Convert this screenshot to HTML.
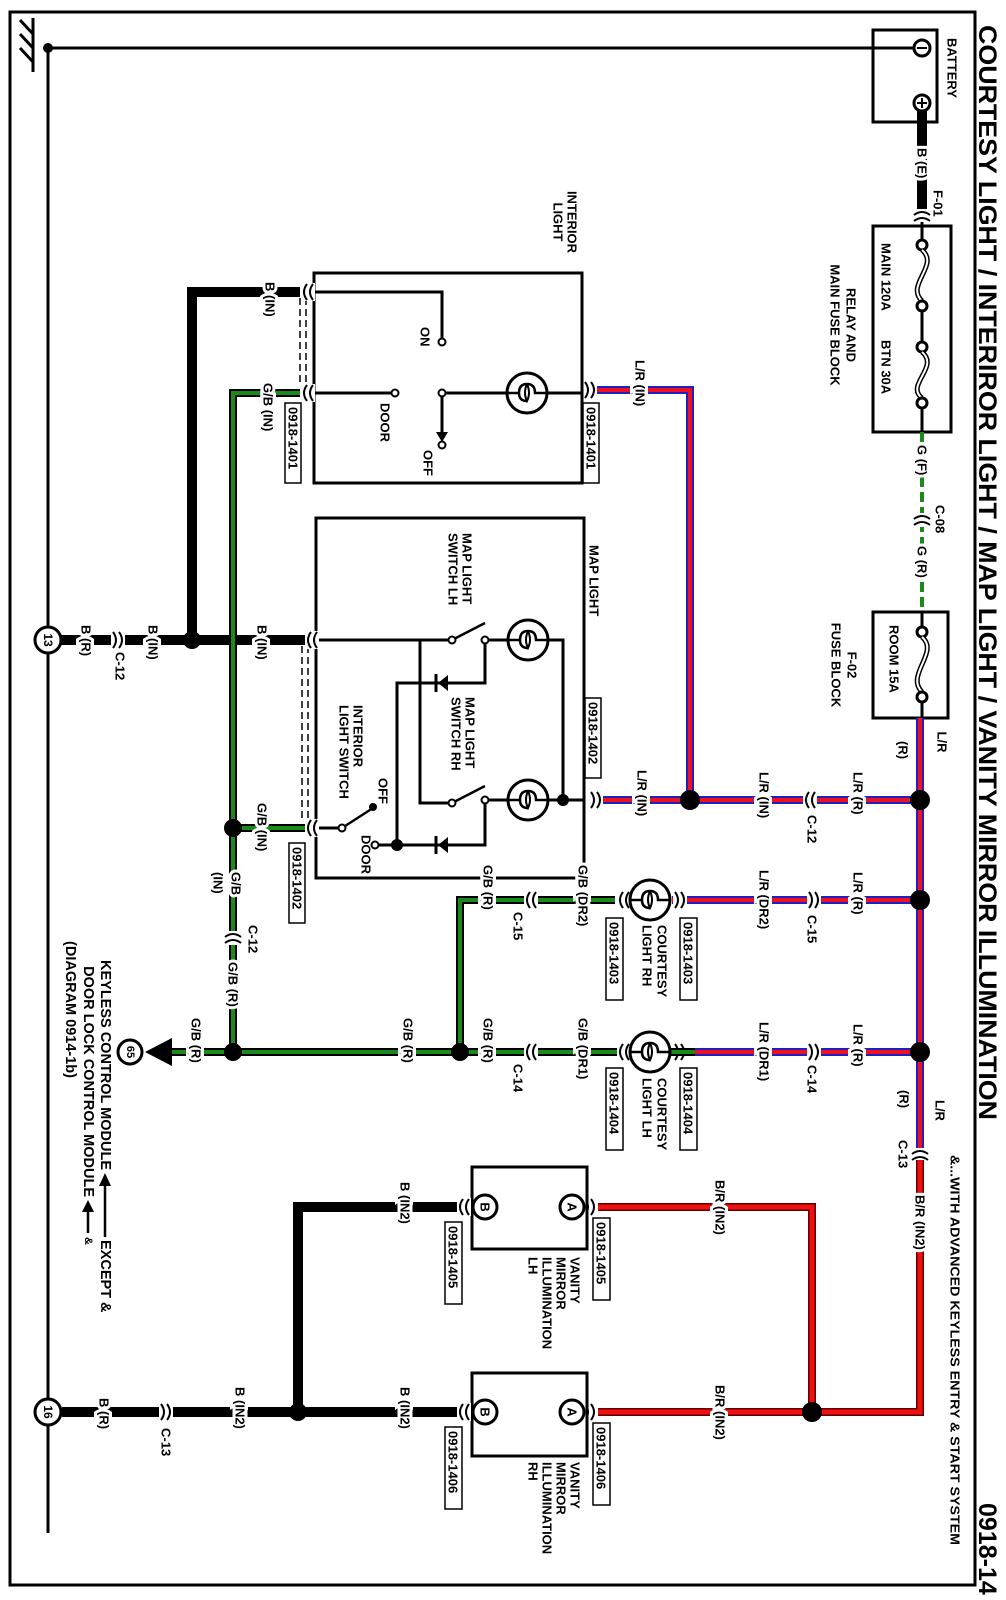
<!DOCTYPE html>
<html><head><meta charset="utf-8"><style>
html,body{margin:0;padding:0;background:#fff}
svg{display:block}
text{font-family:"Liberation Sans",Arial,sans-serif;font-weight:bold;font-size:13px;dominant-baseline:central;fill:#000}
.h{paint-order:stroke;stroke:#fff;stroke-width:6px;stroke-linejoin:miter}
.b{stroke:#000;stroke-width:10;fill:none}
.lr1{stroke:#2020c0;stroke-width:8;fill:none}
.lr2{stroke:#ee1122;stroke-width:4;fill:none}
.g1{stroke:#000;stroke-width:8;fill:none}
.g2{stroke:#1a8a1a;stroke-width:4;fill:none}
.r1{stroke:#600;stroke-width:8;fill:none}
.r2{stroke:#ee1111;stroke-width:5;fill:none}
.l{stroke:#000;stroke-width:3;fill:none}
.w{fill:#fff;stroke:#000;stroke-width:3}
.c{fill:none;stroke:#000;stroke-width:2}
.bx{fill:#fff;stroke:#000;stroke-width:1.5}
.k{font-size:14.5px}
</style></head><body>
<svg width="1006" height="1600" viewBox="0 0 1006 1600" xmlns="http://www.w3.org/2000/svg">
<defs>
<g id="chl"><rect x="-3" y="-9" width="14" height="18" fill="#fff"/><path class="c" d="M3,-8 Q-3,0 3,8 M9,-8 Q3,0 9,8"/></g>
<g id="chr"><rect x="-11" y="-9" width="14" height="18" fill="#fff"/><path class="c" d="M-3,-8 Q3,0 -3,8 M-9,-8 Q-3,0 -9,8"/></g>
<g id="chu"><rect x="-9" y="-3" width="18" height="14" fill="#fff"/><path class="c" d="M-8,3 Q0,-3 8,3 M-8,9 Q0,3 8,9"/></g>
<g id="lamp"><circle r="20" fill="#fff" stroke="#000" stroke-width="3"/><path d="M-20,0 L-8,0 Q-8,-9 0,-9 Q8,-9 8,0 L20,0 M-8,0 Q-8,8 0,8" fill="none" stroke="#000" stroke-width="2.5"/><path d="M0,-9 Q4,0 0,8 Q-4,0 0,-9" fill="none" stroke="#000" stroke-width="2"/></g>
</defs>

<rect x="10" y="12" width="965" height="1573" fill="none" stroke="#000" stroke-width="3"/>

<text transform="translate(987,25) rotate(90)" style="font-size:25px" textLength="1095" lengthAdjust="spacingAndGlyphs">COURTESY LIGHT / INTERIROR LIGHT / MAP LIGHT / VANITY MIRROR ILLUMINATION</text>
<text transform="translate(987,1503) rotate(90)" style="font-size:25px">0918-14</text>
<text transform="translate(955,1155) rotate(90)" textLength="390" lengthAdjust="spacingAndGlyphs">&amp;...WITH ADVANCED KEYLESS ENTRY &amp; START SYSTEM</text>

<line x1="48" y1="48" x2="873" y2="48" class="l"/>
<line x1="48" y1="48" x2="48" y2="1533" class="l"/>
<circle cx="48" cy="48" r="5"/>
<line x1="33" y1="18" x2="33" y2="72" class="l"/>
<path d="M33,34 L20,20 M33,48 L20,34 M33,62 L20,48" class="l"/>

<rect x="873" y="30" width="64" height="92" class="w"/>
<line x1="873" y1="48" x2="914" y2="48" class="l"/>
<circle cx="922" cy="48" r="8" class="w"/><line x1="917" y1="48" x2="927" y2="48" stroke="#000" stroke-width="2"/>
<circle cx="922" cy="103" r="8" class="w"/><path d="M917,103 H927 M922,98 V108" stroke="#000" stroke-width="2"/>
<text transform="translate(952,38) rotate(90)">BATTERY</text>
<line x1="922" y1="111" x2="922" y2="211" class="b"/>
<text class="h" transform="translate(922,148) rotate(90)">B (E)</text>

<rect x="873" y="226" width="78" height="206" class="w"/>
<use href="#chu" x="922" y="212"/>
<text transform="translate(938,190) rotate(90)">F-01</text>
<line x1="922" y1="222" x2="922" y2="240" class="l"/>
<circle cx="922" cy="245" r="5" class="w"/>
<path d="M922,250 C940,265 905,285 922,301" fill="none" stroke="#000" stroke-width="5"/><path d="M922,250 C940,265 905,285 922,301" fill="none" stroke="#fff" stroke-width="2"/>
<circle cx="922" cy="306" r="5" class="w"/>
<line x1="922" y1="311" x2="922" y2="342" class="l"/>
<circle cx="922" cy="347" r="5" class="w"/>
<path d="M922,352 C940,367 905,385 922,398" fill="none" stroke="#000" stroke-width="5"/><path d="M922,352 C940,367 905,385 922,398" fill="none" stroke="#fff" stroke-width="2"/>
<circle cx="922" cy="403" r="5" class="w"/>
<line x1="922" y1="408" x2="922" y2="432" class="l"/>
<text transform="translate(886,243) rotate(90)">MAIN 120A</text>
<text transform="translate(886,340) rotate(90)">BTN 30A</text>
<text transform="translate(851,325) rotate(90)" style="text-anchor:middle">RELAY AND</text>
<text transform="translate(835,325) rotate(90)" style="text-anchor:middle">MAIN FUSE BLOCK</text>

<line x1="922" y1="432" x2="922" y2="612" class="g2" stroke-width="7" stroke-dasharray="10,5"/>
<text class="h" transform="translate(922,445) rotate(90)">G (F)</text>
<use href="#chu" x="922" y="516"/>
<text transform="translate(940,505) rotate(90)">C-08</text>
<text class="h" transform="translate(922,546) rotate(90)">G (R)</text>

<rect x="873" y="612" width="75" height="106" class="w"/>
<line x1="922" y1="612" x2="922" y2="627" class="l"/>
<circle cx="922" cy="632" r="5" class="w"/>
<path d="M922,637 C940,652 905,675 922,692" fill="none" stroke="#000" stroke-width="5"/><path d="M922,637 C940,652 905,675 922,692" fill="none" stroke="#fff" stroke-width="2"/>
<circle cx="922" cy="697" r="5" class="w"/>
<line x1="922" y1="702" x2="922" y2="718" class="l"/>
<text transform="translate(894,625) rotate(90)">ROOM 15A</text>
<text transform="translate(852,665) rotate(90)" style="text-anchor:middle">F-02</text>
<text transform="translate(836,665) rotate(90)" style="text-anchor:middle">FUSE BLOCK</text>

<g>
<path class="lr1" d="M920,718 V1150 M920,800 H590 M920,900 H672 M920,1052 H672 M690,800 V390 H585"/>
<path class="lr2" d="M920,718 V1150 M920,800 H590 M920,900 H672 M920,1052 H672 M690,800 V390 H585"/>
</g>
<circle cx="920" cy="800" r="10"/><circle cx="920" cy="900" r="10"/><circle cx="920" cy="1052" r="10"/><circle cx="690" cy="800" r="10"/>
<text class="h" transform="translate(942,742) rotate(90)" style="text-anchor:middle">L/R</text>
<rect x="908" y="738" width="8" height="34" fill="#fff"/>
<text transform="translate(903,750) rotate(90)" style="text-anchor:middle">(R)</text>
<text transform="translate(940,1100) rotate(90)">L/R</text>
<text transform="translate(904,1090) rotate(90)">(R)</text>
<use href="#chu" x="920" y="1151"/>
<text transform="translate(903,1140) rotate(90)">C-13</text>

<text class="h" transform="translate(858,772) rotate(90)">L/R (R)</text>
<use href="#chl" x="806" y="800"/><text transform="translate(812,815) rotate(90)">C-12</text>
<text class="h" transform="translate(764,772) rotate(90)">L/R (IN)</text>
<text class="h" transform="translate(642,770) rotate(90)">L/R (IN)</text>
<use href="#chr" x="600" y="800"/>

<text class="h" transform="translate(858,872) rotate(90)">L/R (R)</text>
<use href="#chr" x="818" y="900"/><text transform="translate(812,915) rotate(90)">C-15</text>
<text class="h" transform="translate(764,870) rotate(90)">L/R (DR2)</text>
<use href="#chr" x="684" y="900"/>

<text class="h" transform="translate(858,1024) rotate(90)">L/R (R)</text>
<use href="#chr" x="818" y="1052"/><text transform="translate(812,1065) rotate(90)">C-14</text>
<text class="h" transform="translate(764,1022) rotate(90)">L/R (DR1)</text>
<use href="#chr" x="684" y="1052"/>

<text class="h" transform="translate(640,360) rotate(90)">L/R (IN)</text>
<use href="#chr" x="594" y="390"/>

<path class="r1" d="M920,1160 V1412 H598 M812,1412 V1207 H598"/>
<path class="r2" d="M920,1160 V1412 H598 M812,1412 V1207 H598"/>
<circle cx="812" cy="1412" r="10"/>
<text class="h" transform="translate(920,1195) rotate(90)">B/R (IN2)</text>
<text class="h" transform="translate(720,1180) rotate(90)">B/R (IN2)</text>
<text class="h" transform="translate(720,1385) rotate(90)">B/R (IN2)</text>
<use href="#chr" x="594" y="1207"/><use href="#chr" x="594" y="1412"/>

<rect x="314" y="273" width="268" height="210" class="w"/>
<path class="l" d="M314,292 H442 V339 M314,393 H392 M445,393 H582 M442,396 V436"/>
<path d="M436,432 L448,432 L442,442 Z"/>
<circle cx="442" cy="342" r="3.5" class="w" style="stroke-width:2"/>
<circle cx="395" cy="393" r="3.5" class="w" style="stroke-width:2"/>
<circle cx="442" cy="393" r="3.5" class="w" style="stroke-width:2"/>
<circle cx="442" cy="445" r="3.5" class="w" style="stroke-width:2"/>
<use href="#lamp" x="527" y="393"/>
<text transform="translate(425,327) rotate(90)">ON</text>
<text transform="translate(385,403) rotate(90)">DOOR</text>
<text transform="translate(428,450) rotate(90)">OFF</text>
<text transform="translate(572,222) rotate(90)" style="text-anchor:middle">INTERIOR</text>
<text transform="translate(558,222) rotate(90)" style="text-anchor:middle">LIGHT</text>
<rect x="583" y="403" width="16" height="80" class="bx"/><text transform="translate(591,407) rotate(90)">0918-1401</text>
<rect x="285" y="403" width="16" height="80" class="bx"/><text transform="translate(293,407) rotate(90)">0918-1401</text>
<path d="M300,298 V386 M306,298 V386" stroke="#000" stroke-width="1.5" stroke-dasharray="7,4"/>

<rect x="316" y="518" width="268" height="360" class="w"/>
<path class="l" d="M316,640 H449 M488,640 H508 M548,640 H563 V800 H584 M488,800 H508 M548,800 H563 M420,640 V803 H449 M485,643 V683 H397 V845 H378 M485,803 V845 H397 M316,828 H339"/>
<path d="M452,640 L485,623 M452,803 L485,786 M342,828 L373,808" stroke="#000" stroke-width="2.5"/>
<circle cx="452" cy="640" r="3.5" class="w" style="stroke-width:2"/><circle cx="485" cy="640" r="3.5" class="w" style="stroke-width:2"/>
<circle cx="452" cy="803" r="3.5" class="w" style="stroke-width:2"/><circle cx="485" cy="800" r="3.5" class="w" style="stroke-width:2"/>
<circle cx="342" cy="828" r="3.5" class="w" style="stroke-width:2"/><circle cx="375" cy="845" r="3.5" class="w" style="stroke-width:2"/>
<circle cx="373" cy="807" r="4"/>
<circle cx="563" cy="800" r="6"/><circle cx="397" cy="845" r="6"/>
<path d="M448,675 L448,691 L438,683 Z"/><path d="M436,674 V692" stroke="#000" stroke-width="3"/>
<path d="M448,837 L448,853 L438,845 Z"/><path d="M436,836 V854" stroke="#000" stroke-width="3"/>
<use href="#lamp" x="528" y="640"/><use href="#lamp" x="528" y="800"/>
<text transform="translate(594,545) rotate(90)">MAP LIGHT</text>
<text transform="translate(467,533) rotate(90)">MAP LIGHT</text>
<text transform="translate(453,533) rotate(90)">SWITCH LH</text>
<text transform="translate(470,697) rotate(90)">MAP LIGHT</text>
<text transform="translate(456,697) rotate(90)">SWITCH RH</text>
<text transform="translate(358,705) rotate(90)">INTERIOR</text>
<text transform="translate(344,705) rotate(90)">LIGHT SWITCH</text>
<text transform="translate(383,778) rotate(90)">OFF</text>
<text transform="translate(366,835) rotate(90)">DOOR</text>
<rect x="585" y="698" width="16" height="80" class="bx"/><text transform="translate(593,702) rotate(90)">0918-1402</text>
<rect x="289" y="843" width="16" height="80" class="bx"/><text transform="translate(297,847) rotate(90)">0918-1402</text>
<path d="M302,646 V821 M308,646 V821" stroke="#000" stroke-width="1.5" stroke-dasharray="7,4"/>

<path class="b" d="M300,292 H192 V640 M305,640 H60"/>
<circle cx="192" cy="640" r="9"/>
<use href="#chl" x="304" y="292"/><use href="#chl" x="308" y="640"/>
<text class="h" transform="translate(270,282) rotate(90)">B (IN)</text>
<text class="h" transform="translate(262,625) rotate(90)">B (IN)</text>
<text class="h" transform="translate(153,625) rotate(90)">B (IN)</text>
<use href="#chr" x="122" y="640"/><text transform="translate(120,652) rotate(90)">C-12</text>
<text class="h" transform="translate(86,625) rotate(90)">B (R)</text>
<circle cx="48" cy="640" r="13" class="w"/><text transform="translate(48,640) rotate(90)" style="text-anchor:middle;font-size:12px">13</text>

<g>
<path class="g1" d="M300,393 H233 V1052 M305,828 H233 M695,1052 H170 M615,900 H460 V1052"/>
<path class="g2" d="M300,393 H233 V1052 M305,828 H233 M695,1052 H170 M615,900 H460 V1052"/>
</g>
<circle cx="233" cy="828" r="9"/><circle cx="233" cy="1052" r="9"/><circle cx="460" cy="1052" r="9"/>
<use href="#chl" x="304" y="393"/><use href="#chl" x="308" y="828"/>
<text class="h" transform="translate(268,383) rotate(90)">G/B (IN)</text>
<text class="h" transform="translate(262,803) rotate(90)">G/B (IN)</text>
<text class="h" transform="translate(236,872) rotate(90)">G/B</text>
<text transform="translate(218,872) rotate(90)">(IN)</text>
<use href="#chu" x="233" y="934"/><text transform="translate(253,925) rotate(90)">C-12</text>
<text class="h" transform="translate(233,962) rotate(90)">G/B (R)</text>
<text class="h" transform="translate(583,865) rotate(90)">G/B (DR2)</text>
<use href="#chl" x="527" y="900"/><text transform="translate(518,912) rotate(90)">C-15</text>
<text class="h" transform="translate(488,865) rotate(90)">G/B (R)</text>
<use href="#chl" x="620" y="900"/>
<text class="h" transform="translate(583,1018) rotate(90)">G/B (DR1)</text>
<use href="#chl" x="527" y="1052"/><text transform="translate(518,1064) rotate(90)">C-14</text>
<text class="h" transform="translate(488,1018) rotate(90)">G/B (R)</text>
<text class="h" transform="translate(408,1018) rotate(90)">G/B (R)</text>
<text class="h" transform="translate(196,1018) rotate(90)">G/B (R)</text>
<use href="#chl" x="620" y="1052"/>
<path d="M172,1038 L172,1066 L145,1052 Z"/>
<circle cx="130" cy="1052" r="12" class="w"/><text transform="translate(130,1052) rotate(90)" style="text-anchor:middle;font-size:11px">65</text>

<use href="#lamp" x="650" y="900"/><use href="#lamp" x="650" y="1052"/>
<text transform="translate(662,925) rotate(90)">COURTESY</text>
<text transform="translate(647,925) rotate(90)">LIGHT RH</text>
<rect x="680" y="918" width="17" height="82" class="bx"/><text transform="translate(688,922) rotate(90)">0918-1403</text>
<rect x="606" y="918" width="17" height="82" class="bx"/><text transform="translate(614,922) rotate(90)">0918-1403</text>
<text transform="translate(662,1078) rotate(90)">COURTESY</text>
<text transform="translate(647,1078) rotate(90)">LIGHT LH</text>
<rect x="680" y="1068" width="17" height="82" class="bx"/><text transform="translate(688,1072) rotate(90)">0918-1404</text>
<rect x="606" y="1068" width="17" height="82" class="bx"/><text transform="translate(614,1072) rotate(90)">0918-1404</text>

<path class="b" d="M472,1207 H298 V1412 M472,1412 H62"/>
<circle cx="298" cy="1412" r="9"/>
<rect x="472" y="1167" width="115" height="82" class="w"/>
<rect x="472" y="1373" width="115" height="83" class="w"/>
<circle cx="485" cy="1207" r="12" class="w"/><text transform="translate(485,1207) rotate(90)" style="text-anchor:middle">B</text>
<circle cx="572" cy="1207" r="12" class="w"/><text transform="translate(572,1207) rotate(90)" style="text-anchor:middle">A</text>
<circle cx="485" cy="1412" r="12" class="w"/><text transform="translate(485,1412) rotate(90)" style="text-anchor:middle">B</text>
<circle cx="572" cy="1412" r="12" class="w"/><text transform="translate(572,1412) rotate(90)" style="text-anchor:middle">A</text>
<use href="#chl" x="460" y="1207"/><use href="#chl" x="460" y="1412"/>
<text transform="translate(575,1257) rotate(90)">VANITY</text>
<text transform="translate(561,1257) rotate(90)">MIRROR</text>
<text transform="translate(547,1257) rotate(90)">ILLUMINATION</text>
<text transform="translate(533,1257) rotate(90)">LH</text>
<text transform="translate(575,1462) rotate(90)">VANITY</text>
<text transform="translate(561,1462) rotate(90)">MIRROR</text>
<text transform="translate(547,1462) rotate(90)">ILLUMINATION</text>
<text transform="translate(533,1462) rotate(90)">RH</text>
<rect x="593" y="1218" width="17" height="82" class="bx"/><text transform="translate(601,1222) rotate(90)">0918-1405</text>
<rect x="445" y="1222" width="17" height="82" class="bx"/><text transform="translate(453,1226) rotate(90)">0918-1405</text>
<rect x="593" y="1423" width="17" height="82" class="bx"/><text transform="translate(601,1427) rotate(90)">0918-1406</text>
<rect x="445" y="1427" width="17" height="82" class="bx"/><text transform="translate(453,1431) rotate(90)">0918-1406</text>
<text class="h" transform="translate(405,1182) rotate(90)">B (IN2)</text>
<text class="h" transform="translate(405,1387) rotate(90)">B (IN2)</text>
<text class="h" transform="translate(240,1387) rotate(90)">B (IN2)</text>
<use href="#chr" x="170" y="1412"/><text transform="translate(166,1428) rotate(90)">C-13</text>
<text class="h" transform="translate(104,1398) rotate(90)">B (R)</text>
<circle cx="48" cy="1412" r="13" class="w"/><text transform="translate(48,1412) rotate(90)" style="text-anchor:middle;font-size:12px">16</text>

<!-- keyless notes -->
<text class="k" transform="translate(105,1170) rotate(90)" style="text-anchor:end">KEYLESS CONTROL MODULE</text>
<path d="M105,1184 V1237" stroke="#000" stroke-width="2.5"/><path d="M99,1186 L111,1186 L105,1173 Z"/>
<text class="k" transform="translate(105,1240) rotate(90)">EXCEPT &amp;</text>
<text class="k" transform="translate(88,1197) rotate(90)" style="text-anchor:end">DOOR LOCK CONTROL MODULE</text>
<path d="M88,1210 V1233" stroke="#000" stroke-width="2.5"/><path d="M82,1212 L94,1212 L88,1200 Z"/>
<text transform="translate(88,1237) rotate(90)" style="font-size:11px">&amp;</text>
<text class="k" transform="translate(70,1078) rotate(90)" style="text-anchor:end">(DIAGRAM 0914-1b)</text>
</svg>
</body></html>
